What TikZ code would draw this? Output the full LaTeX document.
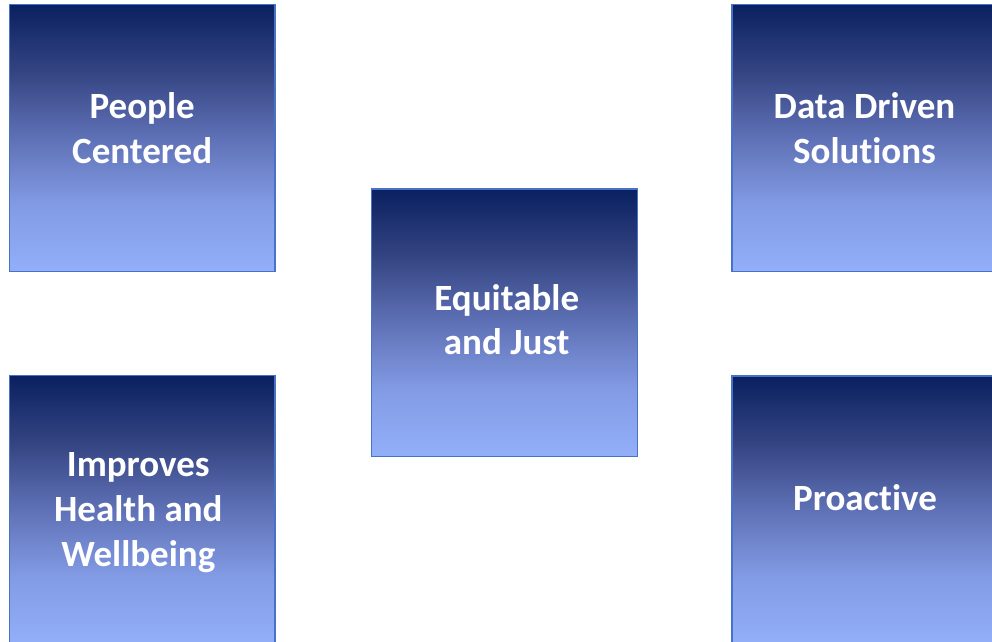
\documentclass[tikz,border=0pt]{standalone}
\usepackage{fontspec}
\setmainfont{Carlito}[Ligatures=NoCommon]
\definecolor{gtop}{RGB}{10,32,96}
\definecolor{gq1}{RGB}{52,68,130}
\definecolor{gmid}{RGB}{95,113,182}
\definecolor{gq3}{RGB}{130,155,228}
\definecolor{gbot}{RGB}{147,175,250}
\definecolor{edge}{RGB}{72,114,200}
\pgfdeclareverticalshading{panelshade}{100bp}{color(0bp)=(gbot); color(25bp)=(gbot); color(37.5bp)=(gq3); color(50bp)=(gmid); color(62.5bp)=(gq1); color(75bp)=(gtop); color(100bp)=(gtop)}
\newcommand\stk[1]{\vtop{\baselineskip=44.7pt\halign{\hfil##\hfil\cr#1\crcr}}}
\tikzset{
  panel/.style={rectangle, draw=edge, line width=1.1pt, inner sep=0pt,
    minimum width=265.7pt, minimum height=267.2pt, shading=panelshade},
  lbl/.style={anchor=base, inner sep=0pt, text=white,
    font=\fontsize{37}{44.7}\selectfont\bfseries}
}
\begin{document}
\begin{tikzpicture}[x=1pt,y=-1pt]
\useasboundingbox[fill=white] (0,0) rectangle (992,641);
\node[panel] (pc) at (142.15,137.9) {};
\node[panel] (dd) at (864.85,137.9) {};
\node[panel] (eq) at (504.65,322.6) {};
\node[panel] (iw) at (142.15,509.3) {};
\node[panel] (pr) at (864.85,509.6) {};
\node[lbl] (pct) at (142.2,118.3) {\stk{People\cr Centered}};
\node[lbl] (ddt) at (864.5,118.3) {\stk{Data Driven\cr Solutions}};
\node[lbl] (eqt) at (506.7,310) {\stk{Equitable\cr and Just}};
\node[lbl] (iwt) at (138.3,476.7) {\stk{Improves\cr Health and\cr Wellbeing}};
\node[lbl] (prt) at (865,510.7) {Proactive};
\end{tikzpicture}
\end{document}
